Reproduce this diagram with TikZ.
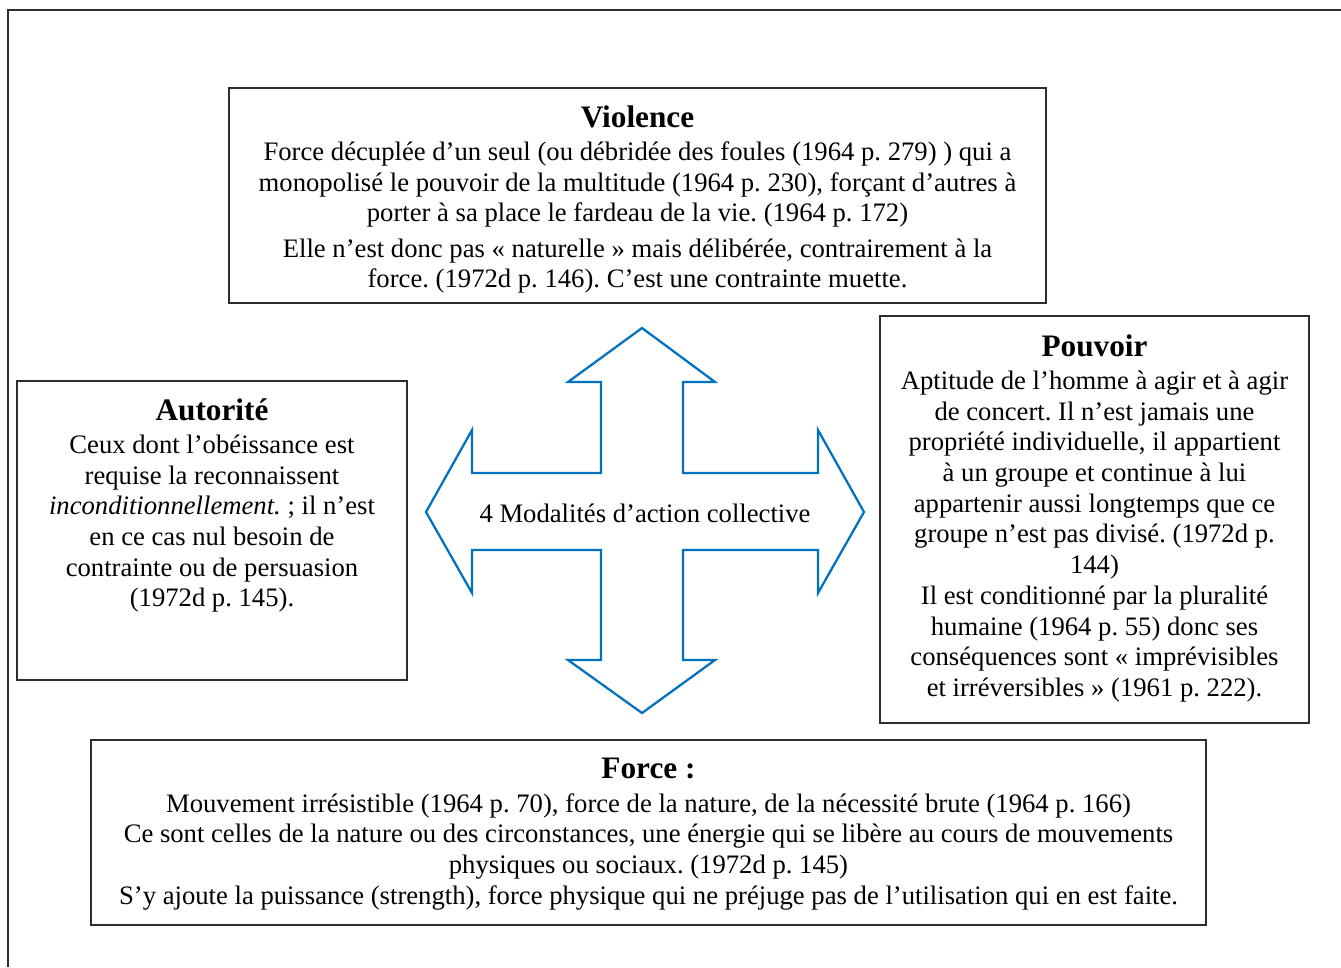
\documentclass[tikz,border=0pt]{standalone}
\usepackage{fontspec}
\setmainfont{Liberation Serif}
\usetikzlibrary{fit}

\definecolor{arrowBlue}{RGB}{0,112,192}
\definecolor{lineGray}{RGB}{45,45,45}

\tikzset{
  panel/.style={draw=lineGray, line width=0.6pt, inner sep=0pt},
  panelText/.style={anchor=north, align=center, inner sep=0pt, font=\fontsize{11.85}{13.65}\selectfont\frenchspacing},
  crossArrow/.style={draw=arrowBlue, fill=white, line width=1pt, line join=miter},
}
\newcommand{\panelTitle}[1]{{\fontsize{13.9}{13.65}\selectfont\bfseries #1}\\[1.1pt]}

\begin{document}
\begin{tikzpicture}[x=0.4444pt,y=0.4444pt,yscale=-1,xscale=1]
  \useasboundingbox (0,0) rectangle (1341,967);

  %Outer frame
  \coordinate (frameTR) at (1341,10);
  \coordinate (frameBL) at (8,967);
  \draw [lineGray, line width=0.9pt] (frameTR) -| (frameBL);

  %Shape: Cross arrow
  \draw [crossArrow] (642,328) -- (715,382) -- (683,382) -- (683,473) -- (818,473) -- (818,430)
    -- (864,512) -- (818,593) -- (818,550) -- (683,550) -- (683,660) -- (715,660)
    -- (642,713) -- (568,660) -- (601,660) -- (601,550) -- (472,550) -- (472,593)
    -- (426,512) -- (472,430) -- (472,473) -- (601,473) -- (601,382) -- (568,382) -- cycle;
  % Text Node
  \node (modes) at (645,513) [font=\fontsize{11.85}{13.65}\selectfont, inner sep=0pt] {4 Modalités d’action collective};

  %Shape: Rectangle (Violence)
  \node [panel, fit={(229,88) (1046,303)}] (violence) {};
  % Text Node
  \node (violenceText) at (637.5,105) [panelText] {\panelTitle{Violence}
    Force décuplée d’un seul (ou débridée des foules (1964 p. 279) ) qui a\\
    monopolisé le pouvoir de la multitude (1964 p. 230), forçant d’autres à\\
    porter à sa place le fardeau de la vie. (1964 p. 172)\\[2pt]
    Elle n’est donc pas « naturelle » mais délibérée, contrairement à la\\
    force. (1972d p. 146). C’est une contrainte muette.};

  %Shape: Rectangle (Autorite)
  \node [panel, fit={(17,381) (407,680)}] (autorite) {};
  % Text Node
  \node (autoriteText) at (212,398) [panelText] {\panelTitle{Autorité}
    Ceux dont l’obéissance est\\
    requise la reconnaissent\\
    \textit{inconditionnellement.} ; il n’est\\
    en ce cas nul besoin de\\
    contrainte ou de persuasion\\
    (1972d p. 145).};

  %Shape: Rectangle (Pouvoir)
  \node [panel, fit={(880,316) (1309,723)}] (pouvoir) {};
  % Text Node
  \node (pouvoirText) at (1094.5,334) [panelText] {\panelTitle{Pouvoir}
    Aptitude de l’homme à agir et à agir\\
    de concert. Il n’est jamais une\\
    propriété individuelle, il appartient\\
    à un groupe et continue à lui\\
    appartenir aussi longtemps que ce\\
    groupe n’est pas divisé. (1972d p.\\
    144)\\
    Il est conditionné par la pluralité\\
    humaine (1964 p. 55) donc ses\\
    conséquences sont « imprévisibles\\
    et irréversibles » (1961 p. 222).};

  %Shape: Rectangle (Force)
  \node [panel, fit={(91,740) (1206,925)}] (force) {};
  % Text Node
  \node (forceText) at (648.5,758) [panelText] {\panelTitle{Force :}
    Mouvement irrésistible (1964 p. 70), force de la nature, de la nécessité brute (1964 p. 166)\\
    Ce sont celles de la nature ou des circonstances, une énergie qui se libère au cours de mouvements\\
    physiques ou sociaux. (1972d p. 145)\\
    S’y ajoute la puissance (strength), force physique qui ne préjuge pas de l’utilisation qui en est faite.};
\end{tikzpicture}
\end{document}
